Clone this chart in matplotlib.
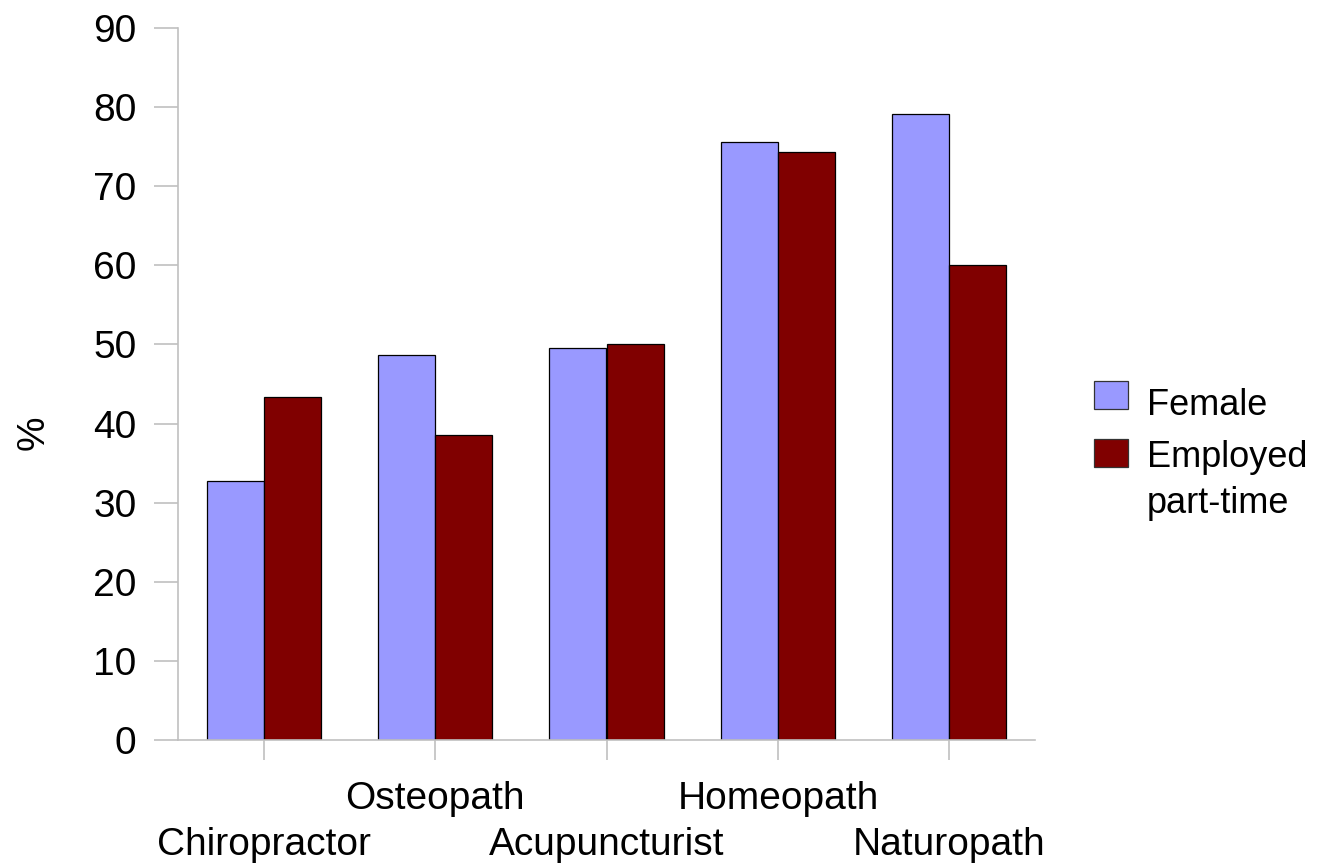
import numpy as np
import matplotlib
matplotlib.use("Agg")
import matplotlib.pyplot as plt
from matplotlib.patches import Rectangle

# --- DATA ---
CATEGORIES = ["Chiropractor", "Osteopath", "Acupuncturist", "Homeopath", "Naturopath"]
FEMALE = [32.7, 48.7, 49.6, 75.6, 79.1]
PART_TIME = [43.4, 38.6, 50.0, 74.3, 60.0]
SERIES_NAMES = ["Female", "Employed\npart-time"]
Y_TICKS = [0, 10, 20, 30, 40, 50, 60, 70, 80, 90]

# --- STYLE ---
COLOR_FEMALE = "#9999FF"
COLOR_PART = "#800000"
AXIS_GRAY = "#C0C0C0"
FONT_TICK = 28
FONT_LEGEND = 26
plt.rcParams["font.family"] = ["Liberation Sans", "DejaVu Sans"]

W_PX, H_PX = 1334, 866
fig = plt.figure(figsize=(W_PX / 100, H_PX / 100), dpi=100)
ax = fig.add_axes([178 / W_PX, 126 / H_PX, 857 / W_PX, 712 / H_PX])

x = np.arange(len(CATEGORIES))
w = 1 / 3
ax.bar(x - w / 2, FEMALE, width=w, color=COLOR_FEMALE, edgecolor="black", linewidth=0.9)
ax.bar(x + w / 2, PART_TIME, width=w, color=COLOR_PART, edgecolor="black", linewidth=0.9)

ax.set_xlim(-0.5, len(CATEGORIES) - 0.5)
ax.set_ylim(0, 90)
ax.set_yticks(Y_TICKS)
ax.tick_params(axis="y", labelsize=FONT_TICK, length=17, width=1.2, color=AXIS_GRAY, pad=13)

# staggered category labels: upper row on major ticks, lower row on minor ticks
upper = [i for i in range(len(CATEGORIES)) if i % 2 == 1]
lower = [i for i in range(len(CATEGORIES)) if i % 2 == 0]
ax.set_xticks(upper)
ax.set_xticklabels([CATEGORIES[i] for i in upper], fontsize=FONT_TICK)
ax.set_xticks(lower, minor=True)
ax.set_xticklabels([CATEGORIES[i] for i in lower], minor=True, fontsize=FONT_TICK)
ax.tick_params(axis="x", which="major", length=14.4, width=1.2, color=AXIS_GRAY, pad=15)
ax.tick_params(axis="x", which="minor", length=14.4, width=1.2, color=AXIS_GRAY, pad=48)

for s in ["top", "right"]:
    ax.spines[s].set_visible(False)
for s in ["left", "bottom"]:
    ax.spines[s].set_color(AXIS_GRAY)
    ax.spines[s].set_linewidth(1.2)

fig.text(34 / W_PX, 1 - 433 / H_PX, "%", rotation=90, ha="center", va="center", fontsize=FONT_TICK)

# legend (drawn by hand so the square sits beside the first line of a wrapped label)
for color, label, sq_top, base in [(COLOR_FEMALE, SERIES_NAMES[0], 381, 415),
                                   (COLOR_PART, SERIES_NAMES[1], 439, 467)]:
    fig.add_artist(Rectangle((1094 / W_PX, 1 - (sq_top + 28) / H_PX), 34 / W_PX, 28 / H_PX,
                             transform=fig.transFigure, facecolor=color,
                             edgecolor="#333333", linewidth=0.9))
    fig.text(1147 / W_PX, 1 - base / H_PX, label.split("\n")[0], fontsize=FONT_LEGEND,
             ha="left", va="baseline")
    if "\n" in label:
        fig.text(1147 / W_PX, 1 - (base + 46) / H_PX, label.split("\n")[1], fontsize=FONT_LEGEND,
                 ha="left", va="baseline")

fig.savefig("out.png", dpi=100)
